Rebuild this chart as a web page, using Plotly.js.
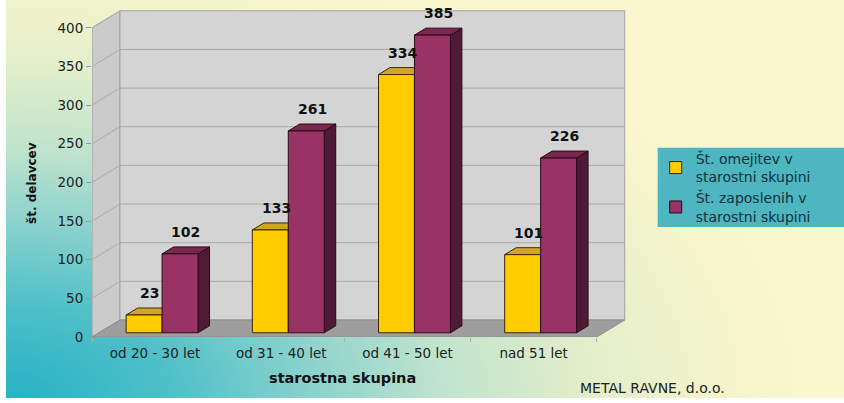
<!DOCTYPE html>
<html>
<head>
<meta charset="utf-8">
<script src="https://cdn.plot.ly/plotly-3.0.1.min.js"></script>
<style>
  html, body { margin:0; padding:0; background:#ffffff; width:844px; height:403px; overflow:hidden; }
  #bg { position:absolute; left:6px; top:0; width:838px; height:398px;
        background: radial-gradient(790px 450px at 0% 100%, #27b2c6 0%, #4cbfc8 20%, #8ed3cd 40%, #bfe3cd 55%, #e4efca 75%, #f7f5cb 95%, #faf7ce 100%); }
  #chart { position:absolute; left:0; top:0; width:844px; height:403px; }
</style>
</head>
<body>
<div id="bg"></div>
<div id="chart"></div>
<script>
// ---- data ----
const categories = ['od 20 - 30 let', 'od 31 - 40 let', 'od 41 - 50 let', 'nad 51 let'];
const omejitve   = [23, 133, 334, 101];
const zaposleni  = [102, 261, 385, 226];
const seriesNames = ['Št. omejitev v<br>starostni skupini', 'Št. zaposlenih v<br>starostni skupini'];
const yTickVals  = [0, 50, 100, 150, 200, 250, 300, 350, 400];
const xTitle = 'starostna skupina';
const yTitle = 'št. delavcev';
const sourceNote = 'METAL RAVNE, d.o.o.';

// ---- 3D look parameters (styling) ----
const DX = 0.222, DY = 22;      // depth of the box (category units, value units)
const F0 = 0.25, F1 = 0.66;     // bar depth span as fraction of box depth
const BW = 0.285;               // bar width (category units)
const base = F0 * DY, sx = F0 * DX, dd = F1 - F0;
const FONT = 'DejaVu Sans, Arial, sans-serif';

const colors = [
  {front:'#FFCC00', top:'#D1A52A', side:'#8a6a00', line:'#3a2a00'},
  {front:'#993366', top:'#7a2750', side:'#4f1a36', line:'#2a0a1a'}
];
const series = [omejitve, zaposleni];
const offsets = [-BW + sx, sx];

// layout geometry
const pxPerCat = 126.25, pxPerUnit = 0.7725;
const xMax = 3.5 + DX + 0.01, yMax = 400 + DY + 1;
const mL = 92, mB = 66;
const plotW = pxPerCat * (xMax + 0.5), plotH = pxPerUnit * yMax;
const mR = 844 - mL - plotW, mT = 403 - mB - plotH;

const traces = series.map((vals, s) => ({
  type: 'bar',
  name: seriesNames[s],
  x: categories,
  y: vals,
  base: vals.map(() => base),
  offset: offsets[s],
  width: BW,
  marker: {color: colors[s].front, line: {color: colors[s].line, width: 1}},
  hovertemplate: '%{x}: %{y}<extra></extra>'
}));

const shapes = [];
// legend panel background (teal strip reaching the right edge)
shapes.push({type:'rect', xref:'paper', yref:'paper', layer:'below',
  x0:(658-mL)/plotW, x1:(846-mL)/plotW, y0:(337-227)/plotH, y1:(337-148)/plotH,
  fillcolor:'#4db6c1', line:{width:0}});
// left wall
shapes.push({type:'path', xref:'x', yref:'y', layer:'below',
  path:`M -0.5,0 L ${-0.5+DX},${DY} L ${-0.5+DX},${400+DY} L -0.5,400 Z`,
  fillcolor:'#cbcbcb', line:{color:'#9c9c9c', width:1}});
// back wall
shapes.push({type:'rect', xref:'x', yref:'y', layer:'below',
  x0:-0.5+DX, x1:3.5+DX, y0:DY, y1:400+DY,
  fillcolor:'#d4d4d4', line:{color:'#a3a3a3', width:1}});
// floor
shapes.push({type:'path', xref:'x', yref:'y', layer:'below',
  path:`M -0.5,0 L 3.5,0 L ${3.5+DX},${DY} L ${-0.5+DX},${DY} Z`,
  fillcolor:'#9e9e9e', line:{color:'#8c8c8c', width:1}});
// gridlines on walls
yTickVals.filter(v => v > 0 && v < 400).forEach(v => {
  shapes.push({type:'path', xref:'x', yref:'y', layer:'below',
    path:`M -0.5,${v} L ${-0.5+DX},${v+DY} L ${3.5+DX},${v+DY}`,
    line:{color:'#aaaaaa', width:1}});
});
// bar side and top faces
series.forEach((vals, s) => {
  vals.forEach((v, i) => {
    const xl = i + offsets[s], xr = xl + BW, t = base + v;
    shapes.push({type:'path', xref:'x', yref:'y', layer:'below',
      path:`M ${xr},${base} L ${xr+dd*DX},${base+dd*DY} L ${xr+dd*DX},${t+dd*DY} L ${xr},${t} Z`,
      fillcolor:colors[s].side, line:{color:colors[s].line, width:1}});
    shapes.push({type:'path', xref:'x', yref:'y', layer:'below',
      path:`M ${xl},${t} L ${xr},${t} L ${xr+dd*DX},${t+dd*DY} L ${xl+dd*DX},${t+dd*DY} Z`,
      fillcolor:colors[s].top, line:{color:colors[s].line, width:1}});
  });
});

const annotations = [];
series.forEach((vals, s) => {
  vals.forEach((v, i) => {
    const xl = i + offsets[s];
    annotations.push({xref:'x', yref:'y', x: xl + BW/2 + dd*DX/2, y: base + v + dd*DY,
      text: String(v), showarrow:false, xanchor:'center', yanchor:'bottom', yshift:5,
      font:{family:FONT, size:14, color:'#111111', weight:'bold'}});
  });
});
annotations.push({xref:'paper', yref:'paper', x:(32-mL)/plotW, y:(337-183)/plotH,
  text:'<b>'+yTitle+'</b>', textangle:-90, showarrow:false, xanchor:'center', yanchor:'middle',
  font:{family:FONT, size:12, color:'#111111'}});
annotations.push({xref:'paper', yref:'paper', x:(343-mL)/plotW, y:(337-378)/plotH,
  text:'<b>'+xTitle+'</b>', showarrow:false, xanchor:'center', yanchor:'middle',
  font:{family:FONT, size:14.5, color:'#111111'}});
annotations.push({xref:'paper', yref:'paper', x:(653-mL)/plotW, y:(337-388)/plotH,
  text:sourceNote, showarrow:false, xanchor:'center', yanchor:'middle',
  font:{family:FONT, size:14, color:'#222222'}});

const layout = {
  width:844, height:403, autosize:false,
  margin:{l:mL, r:mR, t:mT, b:mB, pad:0},
  paper_bgcolor:'rgba(0,0,0,0)', plot_bgcolor:'rgba(0,0,0,0)',
  barmode:'overlay',
  showlegend:true,
  legend:{x:(656-mL)/plotW, xanchor:'left', y:(337-143)/plotH, yanchor:'top',
    bgcolor:'rgba(0,0,0,0)', borderwidth:0, font:{family:FONT, size:14, color:'#14303a'},
    tracegroupgap:0},
  xaxis:{type:'category', range:[-0.5, xMax], showgrid:false, zeroline:false, showline:false,
    ticks:'outside', tickson:'boundaries', ticklen:4, tickcolor:'#b0b0b0', ticklabelstandoff:6,
    tickfont:{family:FONT, size:13.5, color:'#222222'}, fixedrange:true},
  yaxis:{range:[0, yMax], tickvals:yTickVals, showgrid:false, zeroline:false, showline:false,
    ticks:'outside', ticklen:5, tickcolor:'#999999',
    tickfont:{family:FONT, size:13.5, color:'#222222'}, fixedrange:true},
  shapes:shapes,
  annotations:annotations
};

Plotly.newPlot('chart', traces, layout, {displayModeBar:false, staticPlot:true});
</script>
</body>
</html>
